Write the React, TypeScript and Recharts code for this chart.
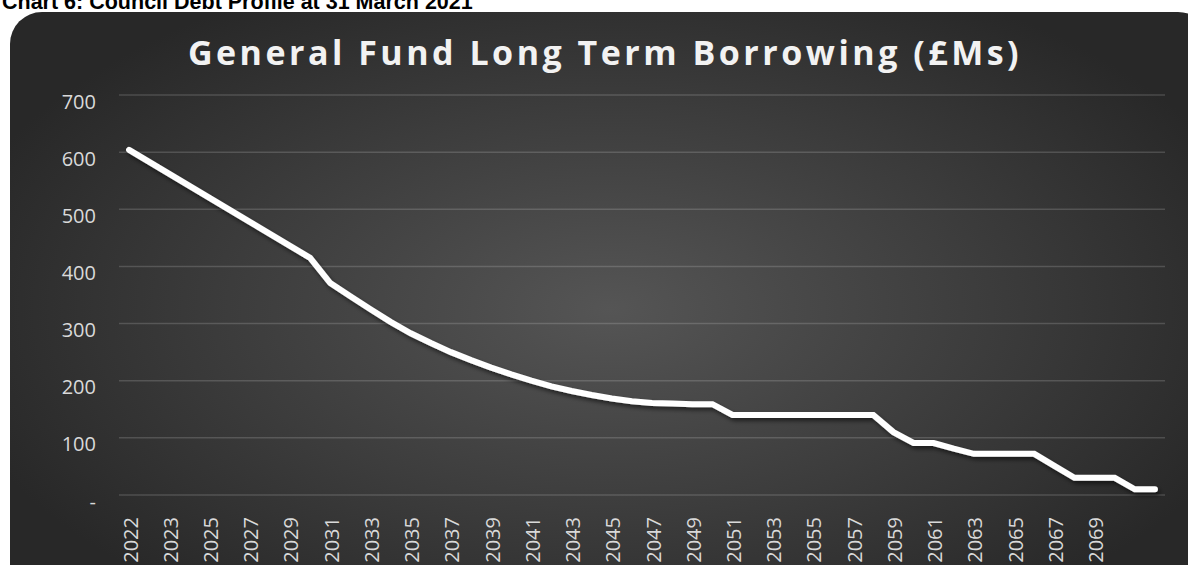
import { LineChart, Line, XAxis, YAxis, CartesianGrid } from "recharts";

// one category per year-end; the first label is repeated in the source sheet
const years = [
  "2022", "2022", "2023", "2024", "2025", "2026", "2027", "2028", "2029", "2030",
  "2031", "2032", "2033", "2034", "2035", "2036", "2037", "2038", "2039", "2040",
  "2041", "2042", "2043", "2044", "2045", "2046", "2047", "2048", "2049", "2050",
  "2051", "2052", "2053", "2054", "2055", "2056", "2057", "2058", "2059", "2060",
  "2061", "2062", "2063", "2064", "2065", "2066", "2067", "2068", "2069", "2070",
  "2071", "2072",
];

// £M outstanding
const borrowing = [
  604, 583, 562, 541, 520, 499, 478, 457, 436, 415,
  371, 348, 325, 303, 283, 266, 250, 236, 223, 211,
  200, 190, 182, 175, 169, 164, 161, 160, 159, 159,
  140, 140, 140, 140, 140, 140, 140, 140, 110, 91,
  91, 81, 72, 72, 72, 72, 51, 30, 30, 30,
  10, 10,
];

const xTickLabels = [
  "2022", "2023", "2025", "2027", "2029", "2031", "2033", "2035", "2037", "2039",
  "2041", "2043", "2045", "2047", "2049", "2051", "2053", "2055", "2057", "2059",
  "2061", "2063", "2065", "2067", "2069",
];
const yTicks = [0, 100, 200, 300, 400, 500, 600, 700];

const data = years.map((year, i) => ({ idx: i, year, value: borrowing[i] }));
const xTicks = xTickLabels.map(l => years.indexOf(l));

const FONT = "'Open Sans', sans-serif";
const LABEL = "#d9d9d9";

function XTick({ x, y, payload }: any) {
  return (
    <text x={x + 1} y={y} transform={`rotate(-90 ${x + 1} ${y})`} textAnchor="end"
          dominantBaseline="central" fill={LABEL} fontSize={20} fontFamily={FONT}>
      {years[payload.value]}
    </text>
  );
}

function YTick({ x, y, payload }: any) {
  return (
    <text x={x} y={y + 6} textAnchor="end" dominantBaseline="central"
          fill={LABEL} fontSize={20} fontFamily={FONT}>
      {payload.value === 0 ? "-" : payload.value}
    </text>
  );
}

export default function App() {
  return (
    <div style={{ position: "fixed", left: 0, top: 0, width: 1188, height: 565,
                  overflow: "hidden", background: "#fff" }}>
      <div style={{ position: "absolute", left: 2, top: -8, fontFamily: "'Liberation Sans', Arial",
                    fontWeight: 700, fontSize: 21.5, lineHeight: "21px", color: "#000",
                    whiteSpace: "nowrap" }}>
        Chart 6: Council Debt Profile at 31 March 2021
      </div>
      <div style={{ position: "absolute", left: 10, top: 12, width: 1200, height: 620,
                    borderRadius: 32,
                    background: "radial-gradient(ellipse at 50% 48%, #555555 0%, #3c3c3c 45%, #282828 80%)" }} />
      <div style={{ position: "absolute", left: 0, top: 35, width: 1210, textAlign: "center",
                    fontFamily: FONT, fontWeight: 700, fontSize: 34, lineHeight: "34px",
                    letterSpacing: 3.5, color: "#f2f2f2", whiteSpace: "nowrap" }}>
        General Fund Long Term Borrowing (£Ms)
      </div>
      <div style={{ position: "absolute", left: 0, top: 0 }}>
        <LineChart width={1188} height={565} data={data}
                   margin={{ top: 95, right: 23, left: 59, bottom: 0 }}>
          <defs>
            <filter id="lineShadow" x="-5%" y="-5%" width="110%" height="120%">
              <feDropShadow dx="2" dy="3" stdDeviation="2" floodColor="#000" floodOpacity="0.55" />
            </filter>
          </defs>
          <CartesianGrid vertical={false} stroke="rgba(255,255,255,0.16)" strokeWidth={1.5} />
          <XAxis dataKey="idx" type="number" domain={[-0.5, 51.5]} ticks={xTicks}
                 interval={0} height={70} axisLine={false} tickLine={false}
                 tickSize={0} tickMargin={22} tick={<XTick />} />
          <YAxis domain={[0, 700]} ticks={yTicks} width={60} axisLine={false}
                 tickLine={false} tickSize={0} tickMargin={23} tick={<YTick />} />
          <Line type="linear" dataKey="value" stroke="#ffffff" strokeWidth={6}
                strokeLinecap="round" dot={false} filter="url(#lineShadow)"
                isAnimationActive={false} />
        </LineChart>
      </div>
    </div>
  );
}
